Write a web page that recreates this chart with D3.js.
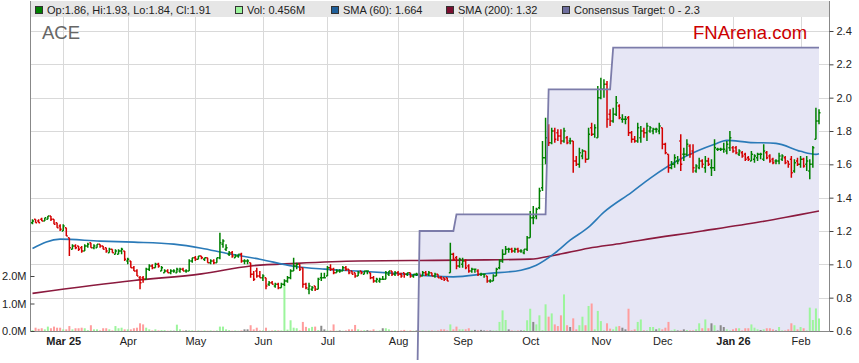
<!DOCTYPE html>
<html>
<head>
<meta charset="utf-8">
<script src="https://cdn.jsdelivr.net/npm/d3@7"></script>
<style>
  body { margin: 0; background: #fff; }
  svg { display: block; font-family: "Liberation Sans", Arial, sans-serif; }
</style>
</head>
<body>
<svg id="chart" width="859" height="363"></svg>
<script>
// daily bars, prices in cents
var opens = [125,127,126,127,126,127,129,127,125,123, 120,122,116,109,111,111,110,108,111,113,
  110,110,112,111,110,107,109,106,106,108, 108,102,102,98,96,92,92,91,97,99,
  98,100,96,95,96,95,96,95,96,97, 96,96,102,104,103,105,103,104,101,102,
  101,104,112,109,106,107,104,105,106,102, 102,101,94,96,93,92,92,88,89,87,
  88,86,88,90,92,96,99,100,98,88, 85,85,87,85,92,92,93,98,97,95,
  96,96,98,97,96,95,93,96,94,96, 95,92,90,90,91,91,94,96,94,95,
  94,95,94,95,93,94,94,93,95,94, 95,93,94,92,92,92,95,106,104,99,
  100,102,99,96,97,96,94,94,93,90, 90,93,98,102,106,109,109,108,109,108,
  107,109,116,128,129,134,146,164,180,173, 180,179,177,174,176,174,174,162,160,165,
  168,163,182,178,176,200,205,208,190,186, 190,195,187,187,188,179,175,174,176,180,
  179,180,180,181,180,182,172,166,158,160, 162,174,166,166,171,168,156,158,162,158,
  162,158,158,169,169,169,168,170,170,170, 166,167,166,164,162,163,164,166,163,167,
  165,163,162,162,163,164,162,163,156,162, 160,163,160,156,160,175,186];
var highs = [127,127,127,128,128,129,129,127,125,124, 124,122,116,112,112,111,111,112,113,113,
  112,112,112,111,110,110,109,109,109,110, 108,104,102,99,97,93,93,98,100,100,
  101,101,99,97,97,97,97,98,98,98, 97,103,104,105,105,105,104,104,103,103,
  104,119,115,112,108,108,106,106,107,103, 103,101,96,98,96,94,92,90,90,89,
  89,89,91,93,97,104,101,100,98,89, 89,87,87,92,95,95,99,100,98,97,
  97,99,99,97,96,95,96,96,96,96, 95,93,92,92,93,96,96,96,96,96,
  95,95,95,95,94,95,95,96,96,96, 95,95,94,93,92,92,113,107,105,104,
  104,103,100,98,97,97,95,94,93,91, 94,98,103,109,111,110,110,110,110,109,
  109,117,132,135,134,146,174,188,184,182, 182,181,181,182,177,176,174,165,170,169,
  168,182,185,184,207,212,211,210,193,194, 201,196,190,189,189,180,177,185,183,182,
  185,183,182,182,185,182,173,166,162,166, 165,178,170,175,172,172,160,164,163,165,
  164,163,175,170,170,173,174,180,171,171, 169,168,167,165,168,166,167,167,172,168,
  166,164,163,167,166,165,162,165,163,164, 165,164,165,163,171,194,193];
var lows = [124,125,125,126,126,127,126,124,122,120, 120,117,105,109,109,108,107,108,110,110,
  109,110,110,109,107,107,107,106,106,106, 102,100,98,96,93,85,89,91,96,97,
  98,98,96,95,95,94,95,95,95,96, 95,96,101,102,103,103,102,101,100,100,
  101,103,110,108,105,104,104,104,101,100, 100,92,90,92,92,90,85,87,88,86,
  85,86,87,89,91,96,97,96,86,85, 82,84,84,85,90,92,93,96,94,95,
  95,96,96,94,94,92,93,94,94,94, 91,89,89,89,91,91,93,93,93,93,
  92,92,93,92,92,93,92,93,93,93, 93,92,92,91,90,90,95,102,97,98,
  98,97,95,95,95,93,93,92,89,89, 90,93,97,101,106,107,107,107,107,107,
  106,108,116,124,127,133,144,160,171,172, 173,174,172,173,172,172,155,159,158,163,
  161,163,177,176,176,199,200,182,183,185, 189,187,185,184,177,173,173,173,173,176,
  174,179,178,179,178,169,166,155,157,158, 160,156,162,165,164,155,155,157,158,155,
  159,153,156,168,168,167,166,168,167,166, 165,164,162,162,162,161,162,163,162,163,
  161,160,160,160,162,160,158,152,155,159, 158,158,156,151,158,175,184];
var closes = [126,125,125,126,128,129,127,124,122,121, 123,117,110,111,110,109,108,111,112,110,
  111,112,111,109,108,109,107,108,108,109, 103,103,98,96,93,89,91,97,99,98,
  100,99,98,96,95,96,96,97,97,96, 96,102,104,103,105,104,104,101,102,101,
  104,113,114,110,107,105,105,106,102,102, 102,94,91,93,92,93,87,89,88,88,
  86,88,90,92,96,99,100,97,88,86, 87,86,85,91,92,92,98,97,95,96,
  96,98,97,95,94,93,95,95,96,96, 92,90,91,91,91,95,96,94,95,94,
  93,94,95,93,94,94,93,95,94,95, 93,94,92,91,91,90,106,103,99,103,
  102,98,96,97,97,94,94,94,90,90, 93,97,102,106,109,109,108,109,108,108,
  109,116,128,128,133,144,164,176,173,180, 175,177,174,180,173,174,162,160,167,168,
  163,178,178,182,200,205,208,187,186,190, 197,188,187,187,179,175,174,182,180,179,
  183,182,181,181,183,172,167,158,160,164, 162,160,166,172,166,158,159,162,160,162,
  160,158,170,169,169,169,172,176,168,167, 168,165,163,163,166,165,166,166,168,164,
  162,161,162,165,165,161,160,155,161,160, 163,159,162,160,170,186,191];

// daily volume, millions
var volumes = [.03,.12,.08,.10,.06,.16,.10,.16,.12,.12, .06,.06,.18,.06,.10,.10,.12,.10,.03,.21,
  .06,.06,.02,.10,.10,.06,.02,.18,.10,.12, .06,.06,.06,.10,.12,.28,.24,.12,.06,.02,
  .06,.02,.03,.03,.01,.02,.01,.23,.06,.01, .02,.02,.02,.01,.02,.01,.02,.01,.02,.01,
  .02,.16,.16,.06,.03,.01,.02,.01,.02,.06, .06,.21,.06,.12,.02,.02,.12,.01,.02,.03,
  .02,.02,1.70,.05,.39,.12,.10,.02,.33,.15, .10,.15,.16,.03,.19,.06,.02,.02,.24,.01,
  .02,.01,.02,.06,.06,.22,.06,.02,.03,.03, .02,.06,.01,.02,.10,.10,.06,.01,.02,.01,
  .02,.04,.01,.02,.01,.02,.01,.02,.01,.02, .02,.01,.02,.06,.06,.02,.24,.06,.16,.06,
  .06,.06,.10,.02,.04,.02,.04,.02,.02,.02, .02,.02,.33,.75,.40,.06,.02,.01,.02,.02,
  .03,.39,.81,.33,.24,.57,.03,.97,.52,.64, .24,.18,.57,1.33,.21,.145,.46,.06,.21,.52,
  .21,.91,1.0,.06,.73,.36,.02,.28,.085,.06, .16,.18,.12,.06,.81,.024,.06,.33,.42,.024,
  .02,.145,.145,.06,.10,.06,.12,.33,.02,.06, .02,.02,.06,.036,.02,.02,.06,.28,.10,.42,
  .10,.28,.21,.02,.21,.145,.06,.02,.06,.10, .10,.02,.10,.10,.24,.12,.06,.036,.06,.10,
  .10,.06,.02,.145,.02,.02,.06,.28,.21,.06, .145,.10,.02,.85,.40,.82,.456];

// moving averages read at these bar numbers
var sma60At = [0,9,22,33,46,55,63,74,85,95,106,117,126,137,148,159,164,170,175,181,186,195,201,212,222,226,233,242,250,255,256];
var sma60 = [1.095,1.151,1.139,1.133,1.121,1.097,1.067,1.031,0.989,0.971,0.959,0.947,0.935,0.925,0.945,0.965,0.995,1.067,1.145,1.223,1.313,1.432,1.516,1.642,1.720,1.744,1.732,1.726,1.678,1.660,1.664];
var sma200At = [0,33,55,71,86,106,126,148,162,170,181,192,198,218,237,256];
var sma200 = [0.826,0.903,0.943,0.990,1.006,1.020,1.023,1.027,1.031,1.055,1.097,1.127,1.145,1.200,1.255,1.320];

// consensus target steps
var targetAt = [0,125,126,137,138,167,168,188,189,256];
var target = [0,0,1.2,1.2,1.3,1.3,2.05,2.05,2.3,2.3];

var monthAt = [10,31,53,75,96,119,140,162,185,205,228,250];
var monthNames = ["Mar 25","Apr","May","Jun","Jul","Aug","Sep","Oct","Nov","Dec","Jan 26","Feb"];
var priceTicks = [0.6,0.8,1.0,1.2,1.4,1.6,1.8,2.0,2.2,2.4];
var volTicks = [0,1,2];

var svg = d3.select("#chart");
var plotL = 30.5, plotR = 829.5, plotT = 17, plotB = 331;

var x = d3.scaleLinear().domain([0, 256]).range([32.5, 819]);
var y = d3.scaleLinear().domain([0.6, 2.4]).range([331, 31]);
var yv = d3.scaleLinear().domain([0, 2]).range([331, 276]);

var bars = opens.map(function(o, i) {
  return {i: i, o: o / 100, h: highs[i] / 100, l: lows[i] / 100, c: closes[i] / 100, v: volumes[i]};
});

svg.append("rect").attr("width", 859).attr("height", 363).attr("fill", "#fff");

var defs = svg.append("defs");
defs.append("clipPath").attr("id", "plot")
  .append("rect").attr("x", plotL).attr("y", plotT).attr("width", plotR - plotL).attr("height", plotB - plotT);
defs.append("clipPath").attr("id", "tline")
  .append("rect").attr("x", plotL).attr("y", plotT).attr("width", plotR - plotL).attr("height", 360 - plotT);

// grid
svg.append("g").selectAll("line")
  .data(priceTicks.slice(1))
  .enter().append("line")
  .attr("x1", plotL).attr("x2", plotR)
  .attr("y1", function(d) { return Math.round(y(d)) + 0.5; })
  .attr("y2", function(d) { return Math.round(y(d)) + 0.5; })
  .attr("stroke", "#d9d9d9");
svg.append("g").selectAll("line")
  .data(monthAt)
  .enter().append("line")
  .attr("y1", plotT).attr("y2", plotB)
  .attr("x1", function(d) { return Math.round(x(d)) + 0.5; })
  .attr("x2", function(d) { return Math.round(x(d)) + 0.5; })
  .attr("stroke", "#d9d9d9");

// consensus area
var tpts = targetAt.map(function(d, k) { return [d, target[k]]; });
svg.append("path")
  .datum(tpts)
  .attr("clip-path", "url(#plot)")
  .attr("fill", "#e6e6f5")
  .attr("d", d3.area().x(function(d) { return x(d[0]); }).y0(plotB).y1(function(d) { return y(d[1]); }));

// volume
svg.append("g").selectAll("rect")
  .data(bars)
  .enter().append("rect")
  .attr("x", function(d) { return x(d.i) - 1; })
  .attr("width", 2)
  .attr("y", function(d) { return yv(d.v); })
  .attr("height", function(d) { return plotB - yv(d.v); })
  .attr("fill", function(d) { return d.c > d.o ? "#9cf59c" : d.c < d.o ? "#ff9d9d" : "#8a8a8a"; });

// moving averages
var smaLine = d3.line().curve(d3.curveMonotoneX)
  .x(function(d) { return x(d[0]); }).y(function(d) { return y(d[1]); });
svg.append("path")
  .datum(sma200At.map(function(d, k) { return [d, sma200[k]]; }))
  .attr("fill", "none").attr("stroke", "#8b1a3e").attr("stroke-width", 1.6)
  .attr("d", smaLine);
svg.append("path")
  .datum(sma60At.map(function(d, k) { return [d, sma60[k]]; }))
  .attr("fill", "none").attr("stroke", "#2a7ab8").attr("stroke-width", 1.6)
  .attr("d", smaLine);

// ohlc bars
svg.append("g").selectAll("path")
  .data(bars)
  .enter().append("path")
  .attr("fill", "none")
  .attr("stroke-width", 1.5)
  .attr("stroke", function(d) { return d.c >= d.o ? "#008000" : "#d40000"; })
  .attr("d", function(d) {
    var cx = x(d.i);
    return "M" + cx + "," + y(d.h) + "V" + y(d.l) +
      "M" + (cx - 1.5) + "," + y(d.o) + "H" + cx +
      "M" + cx + "," + y(d.c) + "H" + (cx + 1.5);
  });

// consensus line
svg.append("path")
  .datum(tpts)
  .attr("clip-path", "url(#tline)")
  .attr("fill", "none").attr("stroke", "#7c7caa").attr("stroke-width", 1.8)
  .attr("d", d3.line().x(function(d) { return x(d[0]); }).y(function(d) { return y(d[1]); }));

// legend strip
svg.append("rect").attr("x", plotL).attr("y", 1).attr("width", plotR - plotL).attr("height", 16).attr("fill", "#e6e6e6");

var last = bars[bars.length - 1];
var legend = [
  {x: 47, c: "#008000", t: "Op:" + last.o.toFixed(2) + ", Hi:" + last.h.toFixed(2) + ", Lo:" + last.l.toFixed(2) + ", Cl:" + last.c.toFixed(2)},
  {x: 247, c: "#9cf59c", t: "Vol: " + last.v.toFixed(3) + "M"},
  {x: 343, c: "#1f5f9a", t: "SMA (60): " + sma60[sma60.length - 1].toFixed(3)},
  {x: 458, c: "#7a0f30", t: "SMA (200): " + sma200[sma200.length - 1].toFixed(2)},
  {x: 574, c: "#6e6e9e", t: "Consensus Target: " + d3.min(target) + " - " + d3.max(target)}
];
var lg = svg.append("g").selectAll("g").data(legend).enter().append("g");
lg.append("rect")
  .attr("x", function(d) { return d.x - 11.5; }).attr("y", 6.5)
  .attr("width", 7).attr("height", 7)
  .attr("fill", function(d) { return d.c; })
  .attr("stroke", "#333").attr("stroke-width", 1);
lg.append("text")
  .attr("x", function(d) { return d.x; }).attr("y", 14)
  .attr("font-size", "11px").attr("fill", "#222")
  .text(function(d) { return d.t; });

// frame
svg.append("line").attr("x1", plotL).attr("x2", plotL).attr("y1", 1).attr("y2", plotB).attr("stroke", "#888");
svg.append("line").attr("x1", plotR).attr("x2", plotR).attr("y1", 1).attr("y2", plotB).attr("stroke", "#888");
svg.append("line").attr("x1", plotL).attr("x2", plotR).attr("y1", plotB + 0.5).attr("y2", plotB + 0.5).attr("stroke", "#888");

// axes
var ax = svg.append("g").attr("transform", "translate(" + plotR + ",0)")
  .call(d3.axisRight(y).tickValues(priceTicks).tickSize(4).tickPadding(3).tickFormat(d3.format(".1f")));
var axl = svg.append("g").attr("transform", "translate(" + plotL + ",0)")
  .call(d3.axisLeft(yv).tickValues(volTicks).tickSize(-4).tickPadding(4).tickFormat(function(d) { return d.toFixed(1) + "M"; }));
var axb = svg.append("g").attr("transform", "translate(0," + (plotB + 0.5) + ")")
  .call(d3.axisBottom(x).tickValues(monthAt).tickSize(0).tickPadding(6).tickFormat(function(d, k) { return monthNames[k]; }));

[ax, axl, axb].forEach(function(g) {
  g.select(".domain").remove();
  g.selectAll(".tick line").attr("stroke", "#444");
  g.selectAll("text").attr("font-family", "Liberation Sans, Arial, sans-serif").attr("font-size", "11px").attr("fill", "#222");
});
axb.selectAll("text").attr("font-weight", function(d, k) { return monthNames[k].indexOf(" ") > 0 ? "bold" : "normal"; });

// titles
svg.append("text").attr("x", 42).attr("y", 39).attr("font-size", "18.5px").attr("fill", "#666").text("ACE");
svg.append("text").attr("x", 693).attr("y", 39).attr("font-size", "18.5px").attr("fill", "#cc0000").text("FNArena.com");
</script>
</body>
</html>
